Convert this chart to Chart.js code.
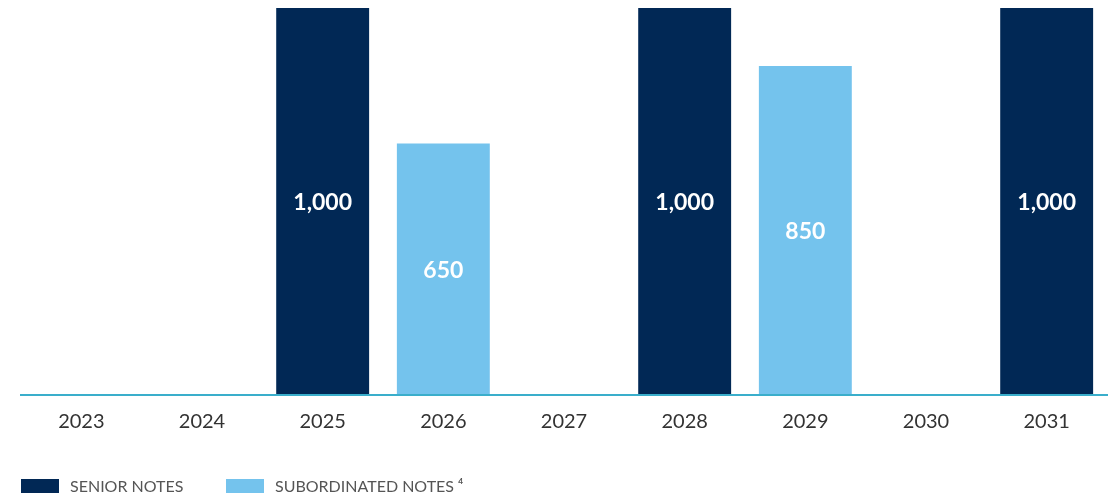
<!DOCTYPE html>
<html>
<head>
<meta charset="utf-8">
<script src="https://cdn.jsdelivr.net/npm/chart.js@4/dist/chart.umd.min.js"></script>
<style>
  html, body { margin: 0; padding: 0; background: #fff; }
  #wrap { position: relative; width: 1117px; height: 496px; }
  #legend { position: absolute; left: 21px; top: 479px; font-family: Lato, sans-serif; font-size: 16px; color: #555; }
  .item { position: absolute; top: 0; white-space: nowrap; }
  .swatch { position: absolute; left: 0; top: 0; width: 38px; height: 14px; }
  .label { position: absolute; left: 49px; top: -3px; line-height: 19px; }
</style>
</head>
<body>
<div id="wrap">
  <canvas id="maturities" width="1117" height="496"></canvas>
  <div id="legend"></div>
</div>
<script>
// Debt maturity profile
const years = ['2023', '2024', '2025', '2026', '2027', '2028', '2029', '2030', '2031'];
const seniorNotes = [null, null, 1000, null, null, 1000, null, null, 1000];
const subordinatedNotes = [null, null, null, 650, null, null, 850, null, null];
const seriesNames = ['SENIOR NOTES', 'SUBORDINATED NOTES \u2074'];
const seriesColors = ['#012855', '#74C3ED'];

function formatValue(v) {
    return new Intl.NumberFormat('en-US').format(v);
}

// Writes the value in the middle of each bar
const barValues = {
    id: 'barValues',
    afterDatasetsDraw(chart) {
        const ctx = chart.ctx;
        ctx.save();
        ctx.font = 'bold 23px Lato, sans-serif';
        ctx.fillStyle = '#ffffff';
        ctx.textAlign = 'center';
        ctx.textBaseline = 'middle';
        chart.data.datasets.forEach((ds, i) => {
            chart.getDatasetMeta(i).data.forEach((bar, j) => {
                const v = ds.data[j];
                if (v == null) return;
                ctx.fillText(formatValue(v), bar.x, (bar.y + bar.base) / 2 + 1);
            });
        });
        ctx.restore();
    }
};

const ctx = document.getElementById('maturities').getContext('2d');
new Chart(ctx, {
    type: 'bar',
    data: {
        labels: years,
        datasets: [
            { label: seriesNames[0], data: seniorNotes, backgroundColor: seriesColors[0] },
            { label: seriesNames[1], data: subordinatedNotes, backgroundColor: seriesColors[1] }
        ]
    },
    options: {
        responsive: false,
        animation: false,
        barPercentage: 0.77,
        categoryPercentage: 1,
        layout: { padding: { left: 21, right: 10, top: 8, bottom: 55 } },
        plugins: {
            legend: { display: false },
            tooltip: { enabled: false }
        },
        scales: {
            x: {
                stacked: true,
                grid: { display: false },
                border: { display: true, color: '#3AAECB', width: 2, z: 1 },
                ticks: {
                    padding: 7,
                    color: '#333333',
                    font: { family: 'Lato', size: 20 }
                }
            },
            y: {
                stacked: true,
                display: false,
                min: 0,
                max: 1000
            }
        }
    },
    plugins: [barValues]
});

// Legend
const legendEl = document.getElementById('legend');
const legendOffsets = [0, 205];
seriesNames.forEach((name, i) => {
    const item = document.createElement('div');
    item.className = 'item';
    item.style.left = legendOffsets[i] + 'px';
    item.innerHTML = '<span class="swatch" style="background:' + seriesColors[i] + '"></span><span class="label">' + name + '</span>';
    legendEl.appendChild(item);
});
</script>
</body>
</html>
